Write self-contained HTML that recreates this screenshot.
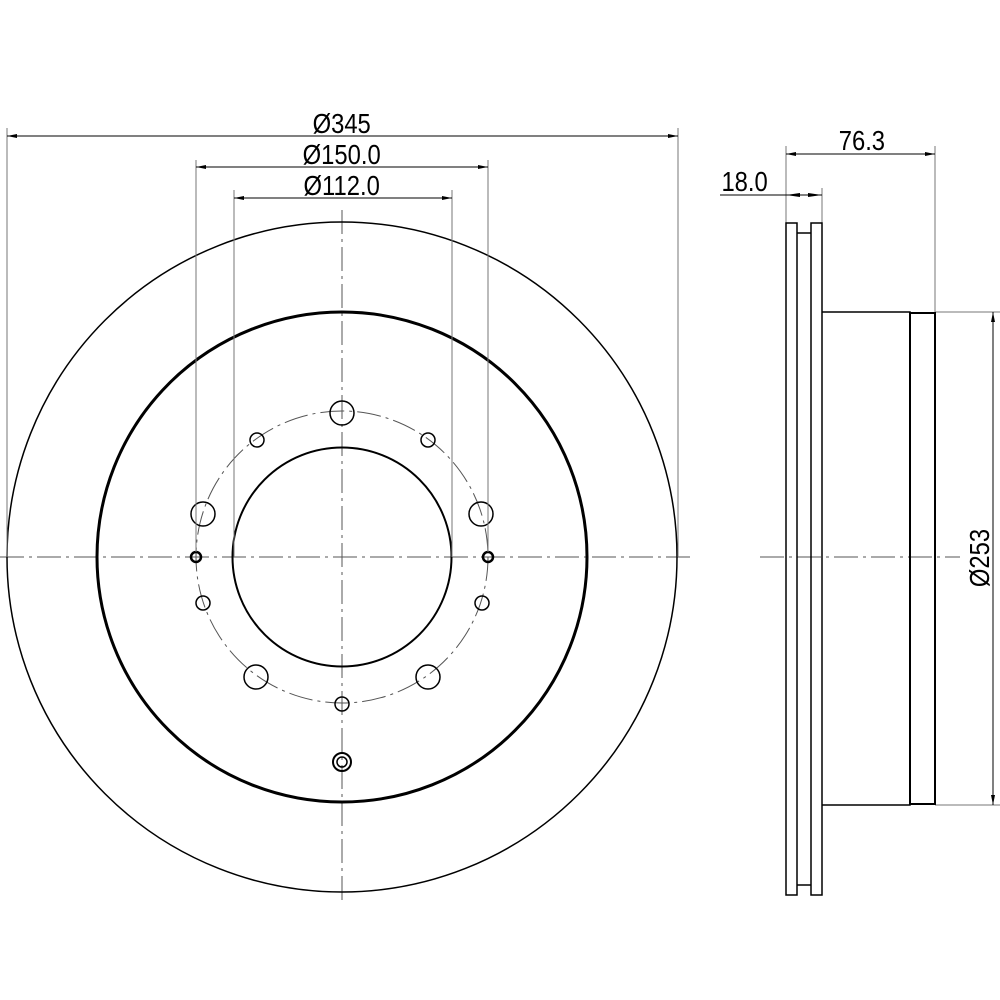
<!DOCTYPE html>
<html><head><style>body{margin:0;background:#fff}svg{display:block}</style></head><body>
<svg width="1000" height="1000" viewBox="0 0 1000 1000" xmlns="http://www.w3.org/2000/svg">
<defs>
<marker id="a" viewBox="0 0 10 4" refX="10" refY="2" markerWidth="10" markerHeight="4" orient="auto-start-reverse" markerUnits="userSpaceOnUse"><path d="M0,0L10,2L0,4z" fill="#000"/></marker>
</defs>
<g fill="none" stroke="#000">
<g stroke="#555" stroke-width="1" stroke-dasharray="24,5,3,5">
<line x1="0" y1="557" x2="690" y2="557"/>
<line x1="342" y1="210" x2="342" y2="900"/>
<line x1="760" y1="557" x2="960" y2="557"/>
<circle cx="342" cy="557" r="146"/>
</g>
<circle cx="342" cy="557" r="335" stroke-width="1.5"/>
<circle cx="342" cy="557" r="245" stroke-width="3"/>
<circle cx="342" cy="557" r="109.5" stroke-width="2"/>
<g stroke-width="1.5">
<circle cx="342" cy="413" r="12"/>
<circle cx="257" cy="440" r="7"/><circle cx="428" cy="440" r="7"/>
<circle cx="203" cy="514" r="12"/><circle cx="481" cy="514" r="12"/>
<circle cx="203" cy="603" r="7"/><circle cx="482" cy="603" r="7"/>
<circle cx="256" cy="677" r="12"/><circle cx="428" cy="677" r="12"/>
<circle cx="342" cy="704" r="7"/>
</g>
<circle cx="196" cy="557" r="5" stroke-width="2.5"/><circle cx="488" cy="557" r="5" stroke-width="2.5"/>
<circle cx="342" cy="762" r="9" stroke-width="2"/><circle cx="342" cy="762" r="5" stroke-width="1.5"/>
<g stroke="#777" stroke-width="1">
<line x1="7" y1="128" x2="7" y2="557"/><line x1="678" y1="128" x2="678" y2="557"/>
<line x1="196" y1="160" x2="196" y2="552"/><line x1="488" y1="160" x2="488" y2="552"/>
<line x1="234" y1="190" x2="234" y2="557"/><line x1="452" y1="190" x2="452" y2="557"/>
<line x1="786" y1="146" x2="786" y2="223"/><line x1="935" y1="146" x2="935" y2="312"/>
<line x1="822" y1="188" x2="822" y2="223"/>
<line x1="935" y1="312" x2="1000" y2="312"/><line x1="935" y1="805" x2="1000" y2="805"/>
</g>
<g stroke-width="1">
<line x1="7" y1="136" x2="678" y2="136" marker-start="url(#a)" marker-end="url(#a)"/>
<line x1="196" y1="167" x2="488" y2="167" marker-start="url(#a)" marker-end="url(#a)"/>
<line x1="234" y1="198" x2="452" y2="198" marker-start="url(#a)" marker-end="url(#a)"/>
<line x1="786" y1="154" x2="935" y2="154" marker-start="url(#a)" marker-end="url(#a)"/>
<line x1="720" y1="195" x2="822" y2="195"/>
<line x1="993" y1="312" x2="993" y2="805" marker-start="url(#a)" marker-end="url(#a)"/>
</g>
<g fill="#000" stroke="none">
<path d="M786,195L800,193L800,197z"/>
<path d="M822,195L808,193L808,197z"/>
</g>
<g stroke-width="1.5">
<rect x="786" y="223" width="11" height="672"/>
<rect x="811" y="223" width="11" height="672"/>
<line x1="797" y1="233" x2="811" y2="233"/><line x1="797" y1="885" x2="811" y2="885"/>
<path d="M822,312H910V805H822"/>
<rect x="910" y="313" width="25" height="491" stroke-width="2"/>
</g>
</g>
<g font-family="'Liberation Sans',sans-serif" font-size="28" text-anchor="middle" fill="#000" transform="scale(0.85,1)">
<text x="402" y="133">Ø345</text>
<text x="402" y="164">Ø150.0</text>
<text x="402" y="195">Ø112.0</text>
<text x="1014" y="150">76.3</text>
<text x="876" y="191">18.0</text>
</g>
<g font-family="'Liberation Sans',sans-serif" font-size="28" text-anchor="middle" fill="#000">
<text transform="translate(989,558) rotate(-90) scale(0.85,1)">Ø253</text>
</g>
</svg>
</body></html>
